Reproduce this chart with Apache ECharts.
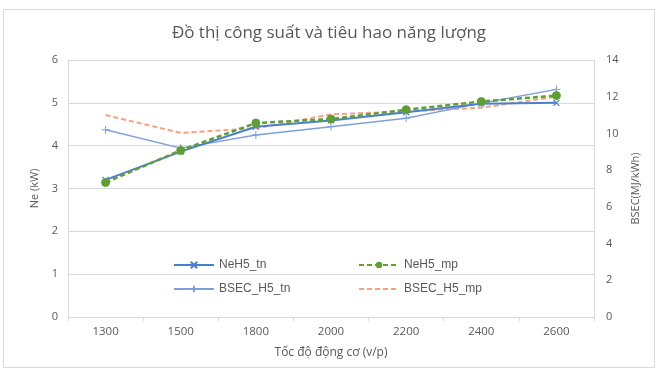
<!DOCTYPE html>
<html>
<head>
<meta charset="utf-8">
<script src="https://cdn.jsdelivr.net/npm/echarts@6/dist/echarts.min.js"></script>
<style>
  html, body { margin: 0; padding: 0; background: #fff; }
  #chart { width: 658px; height: 371px; }
</style>
</head>
<body>
<div id="chart"></div>
<script>
// Engine speed (v/p)
const speeds = ['1300', '1500', '1800', '2000', '2200', '2400', '2600'];
// Power Ne (kW)
const neTn = [3.2, 3.86, 4.44, 4.59, 4.78, 4.98, 5.0];
const neMp = [3.14, 3.89, 4.53, 4.62, 4.84, 5.03, 5.17];
// Brake specific energy consumption (MJ/kWh)
const bsecTn = [10.2, 9.2, 9.92, 10.37, 10.83, 11.65, 12.4];
const bsecMp = [11.0, 10.03, 10.28, 11.04, 11.2, 11.4, 12.0];

const leftTicks = { min: 0, max: 6, interval: 1 };
const rightTicks = { min: 0, max: 14, interval: 2 };

const crossPath = 'path://M0,0L10,10M10,0L0,10';
const plusPath = 'path://M5,0L5,10M0,5L10,5';

const txt = '#595959';
const chart = echarts.init(document.getElementById('chart'));

const legendText = { color: txt, fontSize: 12, fontFamily: 'Liberation Sans, Arial, sans-serif' };

chart.setOption({
  animation: false,
  textStyle: { fontFamily: 'Open Sans, Noto Sans, sans-serif' },
  graphic: [{
    type: 'rect',
    shape: { x: 3.5, y: 9.5, width: 651, height: 358 },
    style: { fill: 'none', stroke: '#d9d9d9', lineWidth: 1 }
  }],
  title: {
    text: 'Đồ thị công suất và tiêu hao năng lượng',
    left: 'center',
    top: 20,
    textStyle: { color: txt, fontSize: 17, fontWeight: 'normal' }
  },
  grid: { left: 68, right: 64, top: 60, bottom: 54, containLabel: false },
  legend: [{
    orient: 'vertical',
    left: 168,
    top: 254,
    itemWidth: 40,
    itemHeight: 8,
    itemGap: 12,
    textStyle: legendText,
    data: ['NeH5_tn', 'BSEC_H5_tn']
  }, {
    orient: 'vertical',
    left: 353,
    top: 254,
    itemWidth: 40,
    itemHeight: 8,
    itemGap: 12,
    textStyle: legendText,
    data: ['NeH5_mp', { name: 'BSEC_H5_mp', itemStyle: { opacity: 0 } }]
  }],
  xAxis: {
    type: 'category',
    data: speeds,
    boundaryGap: true,
    name: 'Tốc độ động cơ (v/p)',
    nameLocation: 'middle',
    nameGap: 30,
    nameTextStyle: { color: txt, fontSize: 12 },
    axisLine: { lineStyle: { color: '#d9d9d9' } },
    axisTick: { show: true, length: 4, lineStyle: { color: '#d9d9d9' } },
    axisLabel: { color: txt, fontSize: 11.5, margin: 9 }
  },
  yAxis: [{
    type: 'value',
    min: leftTicks.min, max: leftTicks.max, interval: leftTicks.interval,
    name: 'Ne (kW)',
    nameLocation: 'middle',
    nameGap: 26,
    nameRotate: 90,
    nameTextStyle: { color: txt, fontSize: 11 },
    axisLine: { show: true, lineStyle: { color: '#d9d9d9' } },
    axisTick: { show: false },
    axisLabel: { color: txt, fontSize: 11, margin: 10 },
    splitLine: { lineStyle: { color: '#d9d9d9' } }
  }, {
    type: 'value',
    min: rightTicks.min, max: rightTicks.max, interval: rightTicks.interval,
    name: 'BSEC(MJ/kWh)',
    nameLocation: 'middle',
    nameGap: 36,
    nameRotate: 90,
    nameTextStyle: { color: txt, fontSize: 11 },
    axisLine: { show: true, lineStyle: { color: '#d9d9d9' } },
    axisTick: { show: false },
    axisLabel: { color: txt, fontSize: 11, margin: 12 },
    splitLine: { show: false }
  }],
  series: [{
    name: 'NeH5_tn',
    type: 'line',
    yAxisIndex: 0,
    data: neTn,
    symbol: crossPath,
    symbolSize: 6,
    color: '#4a7fd0',
    lineStyle: { width: 2, color: '#4a7fd0' },
    itemStyle: { color: '#4a7fd0', borderColor: '#4a7fd0', borderWidth: 1.2 },
    z: 3
  }, {
    name: 'NeH5_mp',
    type: 'line',
    yAxisIndex: 0,
    data: neMp,
    symbol: 'circle',
    symbolSize: 8,
    color: '#5f9e32',
    lineStyle: { width: 2.5, type: [5, 3], color: '#5f9e32' },
    itemStyle: { color: '#5f9e32', borderColor: '#5f9e32' },
    z: 4
  }, {
    name: 'BSEC_H5_tn',
    type: 'line',
    yAxisIndex: 1,
    data: bsecTn,
    symbol: plusPath,
    symbolSize: 8,
    color: '#7f9fdc',
    lineStyle: { width: 1.5, color: '#7f9fdc' },
    itemStyle: { color: '#7f9fdc', borderColor: '#7f9fdc', borderWidth: 1 },
    z: 2
  }, {
    name: 'BSEC_H5_mp',
    type: 'line',
    yAxisIndex: 1,
    data: bsecMp,
    symbol: 'none',
    color: '#f7a27c',
    lineStyle: { width: 2, type: [5, 3], color: '#f7a27c' },
    z: 1
  }]
});
</script>
</body>
</html>
